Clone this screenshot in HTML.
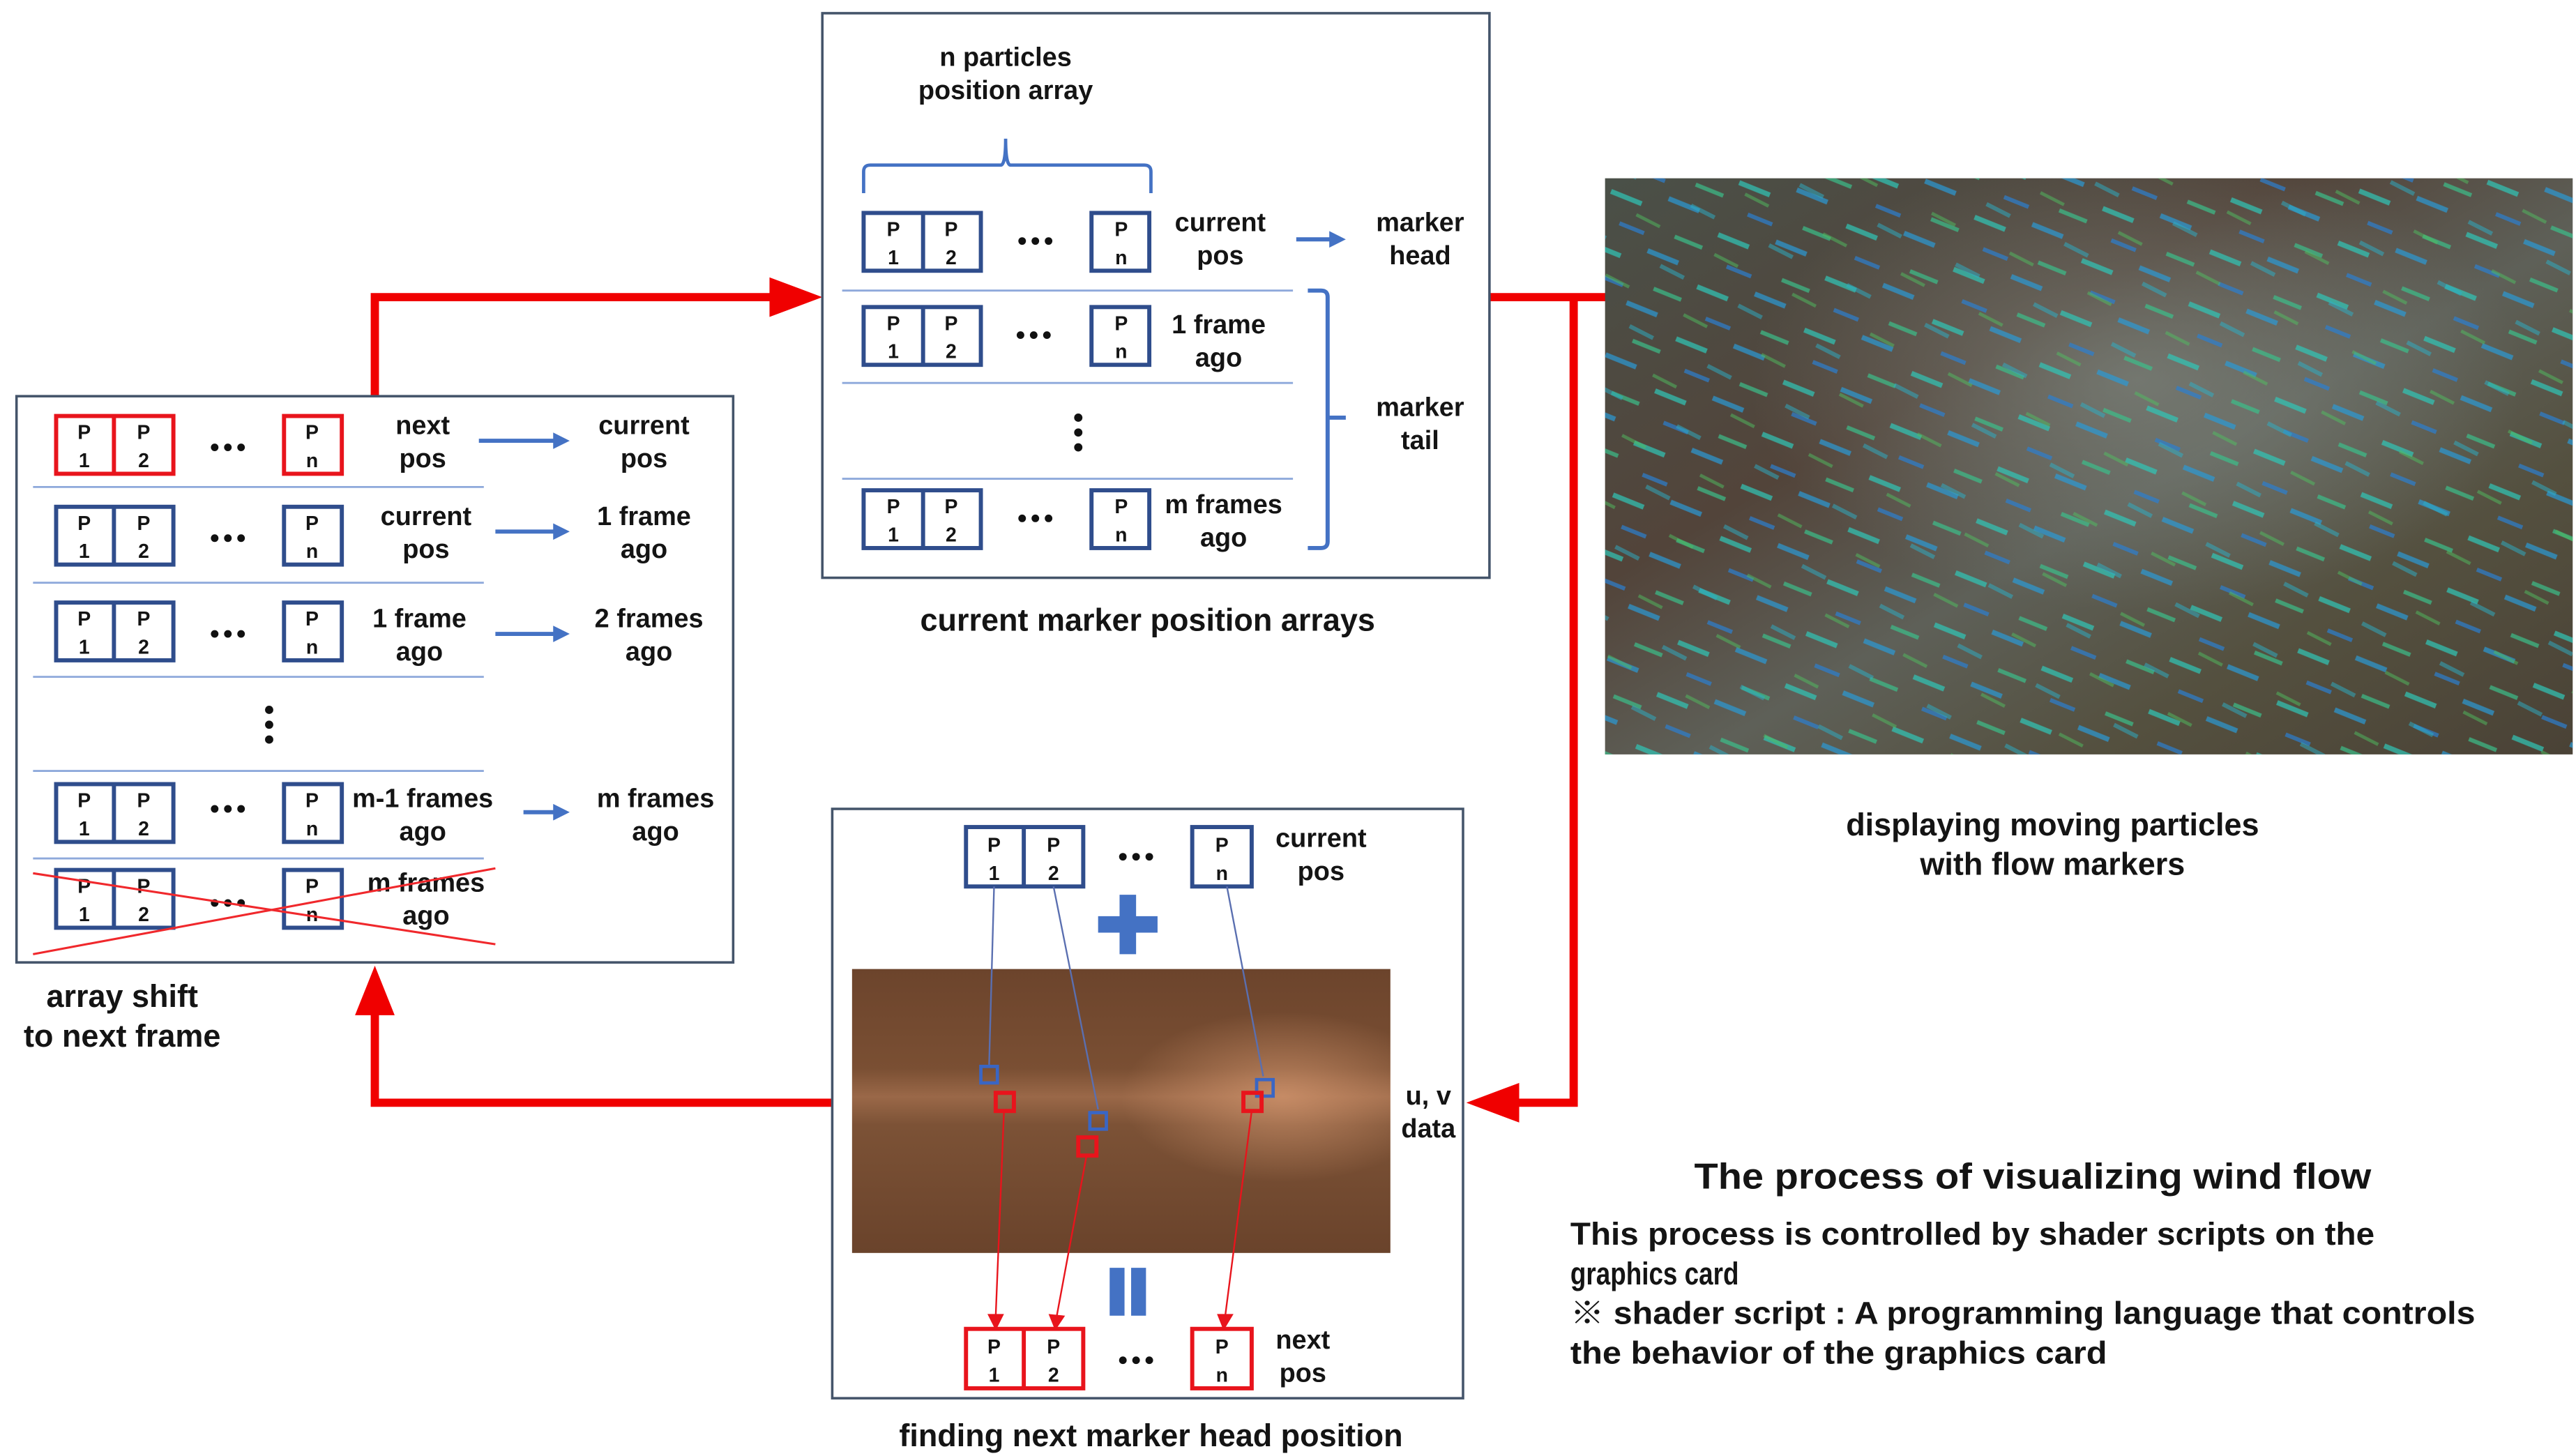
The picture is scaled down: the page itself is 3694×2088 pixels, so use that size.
<!DOCTYPE html>
<html><head><meta charset="utf-8"><style>
html,body{margin:0;padding:0;background:#fff;}
svg{display:block;}
text{font-family:"Liberation Sans","Noto Sans CJK KR",sans-serif;font-weight:bold;fill:#141414;}
.c{font-size:12px;text-anchor:middle;}
.l{font-size:16px;text-anchor:middle;}
</style></head><body>
<svg width="3694" height="2088" viewBox="0 0 1560 882" preserveAspectRatio="none" xmlns="http://www.w3.org/2000/svg">
<defs>
<linearGradient id="sat" x1="0" y1="0" x2="1" y2="1">
<stop offset="0" stop-color="#4a5048"/><stop offset="0.35" stop-color="#52443a"/><stop offset="0.55" stop-color="#5e6058"/><stop offset="0.75" stop-color="#54503f"/><stop offset="1" stop-color="#4a4236"/>
</linearGradient>
<radialGradient id="urb" cx="0.55" cy="0.35" r="0.4">
<stop offset="0" stop-color="#7f8780" stop-opacity="0.7"/><stop offset="1" stop-color="#7f8780" stop-opacity="0"/>
</radialGradient>
<pattern id="dash" width="70" height="34" patternUnits="userSpaceOnUse" patternTransform="rotate(22)">
<line x1="2" y1="5" x2="22" y2="5" stroke="#2a9ad6" stroke-width="3"/>
<line x1="38" y1="14" x2="58" y2="14" stroke="#2fc7b8" stroke-width="3"/>
<line x1="14" y1="25" x2="32" y2="25" stroke="#3bbf8a" stroke-width="2.5"/>
<line x1="50" y1="30" x2="66" y2="30" stroke="#2b7fd0" stroke-width="2.5"/>
</pattern>
<pattern id="dash2" width="53" height="41" patternUnits="userSpaceOnUse" patternTransform="rotate(27) translate(11,7)">
<line x1="4" y1="8" x2="20" y2="8" stroke="#2bb0c8" stroke-width="2.5"/>
<line x1="30" y1="28" x2="46" y2="28" stroke="#4fbf60" stroke-width="2"/>
</pattern>
<linearGradient id="wind" x1="0" y1="0" x2="0" y2="1">
<stop offset="0" stop-color="#6c442c"/><stop offset="0.35" stop-color="#7a4f33"/><stop offset="0.45" stop-color="#9a6848"/><stop offset="0.55" stop-color="#7c5236"/><stop offset="1" stop-color="#6a432b"/>
</linearGradient>
<radialGradient id="band" cx="0.8" cy="0.45" r="0.3">
<stop offset="0" stop-color="#d89a72" stop-opacity="0.7"/><stop offset="1" stop-color="#d89a72" stop-opacity="0"/>
</radialGradient>
</defs>

<g fill="none" stroke="#f00000" stroke-width="5">
<polyline points="227,240 227,180 468,180"/>
<polyline points="902,180 992,180"/>
<polyline points="953,180 953,668 918,668"/>
<polyline points="504,668 227,668 227,614"/>
</g>
<g fill="#f00000">
<polygon points="466,168 498,180 466,192"/>
<polygon points="990,168 1022,180 990,192"/>
<polygon points="920,656 888,668 920,680"/>
<polygon points="215,615 227,585 239,615"/>
</g>

<rect x="10" y="240" width="434" height="343" fill="#fff" stroke="#44546a" stroke-width="1.5"/>
<g stroke="#8ea9db" stroke-width="1.2">
<line x1="20" y1="295" x2="293" y2="295"/><line x1="20" y1="353" x2="293" y2="353"/>
<line x1="20" y1="410" x2="293" y2="410"/><line x1="20" y1="467" x2="293" y2="467"/>
<line x1="20" y1="520" x2="293" y2="520"/>
</g>
<g fill="#fff" stroke-width="2.5">
<g stroke="#e8141c"><rect x="34" y="252" width="71" height="35"/><line x1="69" y1="252" x2="69" y2="287"/><rect x="172" y="252" width="35" height="35"/></g>
<g stroke="#2f4d8c">
<rect x="34" y="307" width="71" height="35"/><line x1="69" y1="307" x2="69" y2="342"/><rect x="172" y="307" width="35" height="35"/>
<rect x="34" y="365" width="71" height="35"/><line x1="69" y1="365" x2="69" y2="400"/><rect x="172" y="365" width="35" height="35"/>
<rect x="34" y="475" width="71" height="35"/><line x1="69" y1="475" x2="69" y2="510"/><rect x="172" y="475" width="35" height="35"/>
<rect x="34" y="527" width="71" height="35"/><line x1="69" y1="527" x2="69" y2="562"/><rect x="172" y="527" width="35" height="35"/>
</g></g>
<g class="c">
<text class="c" x="51" y="266">P</text><text class="c" x="51" y="283">1</text><text class="c" x="87" y="266">P</text><text class="c" x="87" y="283">2</text><text class="c" x="189" y="266">P</text><text class="c" x="189" y="283">n</text>
<text class="c" x="51" y="321">P</text><text class="c" x="51" y="338">1</text><text class="c" x="87" y="321">P</text><text class="c" x="87" y="338">2</text><text class="c" x="189" y="321">P</text><text class="c" x="189" y="338">n</text>
<text class="c" x="51" y="379">P</text><text class="c" x="51" y="396">1</text><text class="c" x="87" y="379">P</text><text class="c" x="87" y="396">2</text><text class="c" x="189" y="379">P</text><text class="c" x="189" y="396">n</text>
<text class="c" x="51" y="489">P</text><text class="c" x="51" y="506">1</text><text class="c" x="87" y="489">P</text><text class="c" x="87" y="506">2</text><text class="c" x="189" y="489">P</text><text class="c" x="189" y="506">n</text>
<text class="c" x="51" y="541">P</text><text class="c" x="51" y="558">1</text><text class="c" x="87" y="541">P</text><text class="c" x="87" y="558">2</text><text class="c" x="189" y="541">P</text><text class="c" x="189" y="558">n</text>
</g>
<g fill="#111">
<circle cx="130" cy="271" r="2.3"/><circle cx="138" cy="271" r="2.3"/><circle cx="146" cy="271" r="2.3"/>
<circle cx="130" cy="326" r="2.3"/><circle cx="138" cy="326" r="2.3"/><circle cx="146" cy="326" r="2.3"/>
<circle cx="130" cy="384" r="2.3"/><circle cx="138" cy="384" r="2.3"/><circle cx="146" cy="384" r="2.3"/>
<circle cx="130" cy="490" r="2.3"/><circle cx="138" cy="490" r="2.3"/><circle cx="146" cy="490" r="2.3"/>
<circle cx="130" cy="547" r="2.3"/><circle cx="138" cy="547" r="2.3"/><circle cx="146" cy="547" r="2.3"/>
<circle cx="163" cy="430" r="2.5"/><circle cx="163" cy="439" r="2.5"/><circle cx="163" cy="448" r="2.5"/>
</g>
<text class="l" x="256" y="263">next</text><text class="l" x="256" y="283">pos</text>
<text class="l" x="390" y="263">current</text><text class="l" x="390" y="283">pos</text>
<text class="l" x="258" y="318">current</text><text class="l" x="258" y="338">pos</text>
<text class="l" x="390" y="318">1 frame</text><text class="l" x="390" y="338">ago</text>
<text class="l" x="254" y="380">1 frame</text><text class="l" x="254" y="400">ago</text>
<text class="l" x="393" y="380">2 frames</text><text class="l" x="393" y="400">ago</text>
<text class="l" x="256" y="489">m-1 frames</text><text class="l" x="256" y="509">ago</text>
<text class="l" x="397" y="489">m frames</text><text class="l" x="397" y="509">ago</text>
<text class="l" x="258" y="540">m frames</text><text class="l" x="258" y="560">ago</text>
<g stroke="#4472c4" stroke-width="2.5" fill="#4472c4">
<line x1="290" y1="267" x2="336" y2="267"/><polygon points="335,262 345,267 335,272" stroke="none"/>
<line x1="300" y1="322" x2="336" y2="322"/><polygon points="335,317 345,322 335,327" stroke="none"/>
<line x1="300" y1="384" x2="336" y2="384"/><polygon points="335,379 345,384 335,389" stroke="none"/>
<line x1="317" y1="492" x2="336" y2="492"/><polygon points="335,487 345,492 335,497" stroke="none"/>
</g>
<g stroke="#f0282c" stroke-width="1.3"><line x1="20" y1="529" x2="300" y2="572"/><line x1="20" y1="578" x2="300" y2="526"/></g>
<text x="74" y="610" style="font-size:19px;text-anchor:middle">array shift</text>
<text x="74" y="634" style="font-size:19px;text-anchor:middle">to next frame</text>

<rect x="498" y="8" width="404" height="342" fill="#fff" stroke="#44546a" stroke-width="1.5"/>
<text class="l" x="609" y="40">n particles</text><text class="l" x="609" y="60">position array</text>
<path d="M523,117 V104 Q523,100 527,100 H606 Q609,100 609,84 Q609,100 612,100 H693 Q697,100 697,104 V117" fill="none" stroke="#4472c4" stroke-width="2"/>
<g stroke="#8ea9db" stroke-width="1.2"><line x1="510" y1="176" x2="783" y2="176"/><line x1="510" y1="232" x2="783" y2="232"/><line x1="510" y1="290" x2="783" y2="290"/></g>
<g fill="#fff" stroke="#2f4d8c" stroke-width="2.5">
<rect x="523" y="129" width="71" height="35"/><line x1="559" y1="129" x2="559" y2="164"/><rect x="661" y="129" width="35" height="35"/>
<rect x="523" y="186" width="71" height="35"/><line x1="559" y1="186" x2="559" y2="221"/><rect x="661" y="186" width="35" height="35"/>
<rect x="523" y="297" width="71" height="35"/><line x1="559" y1="297" x2="559" y2="332"/><rect x="661" y="297" width="35" height="35"/>
</g>
<text class="c" x="541" y="143">P</text><text class="c" x="541" y="160">1</text><text class="c" x="576" y="143">P</text><text class="c" x="576" y="160">2</text><text class="c" x="679" y="143">P</text><text class="c" x="679" y="160">n</text>
<text class="c" x="541" y="200">P</text><text class="c" x="541" y="217">1</text><text class="c" x="576" y="200">P</text><text class="c" x="576" y="217">2</text><text class="c" x="679" y="200">P</text><text class="c" x="679" y="217">n</text>
<text class="c" x="541" y="311">P</text><text class="c" x="541" y="328">1</text><text class="c" x="576" y="311">P</text><text class="c" x="576" y="328">2</text><text class="c" x="679" y="311">P</text><text class="c" x="679" y="328">n</text>
<g fill="#111">
<circle cx="619" cy="146" r="2.3"/><circle cx="627" cy="146" r="2.3"/><circle cx="635" cy="146" r="2.3"/>
<circle cx="618" cy="203" r="2.3"/><circle cx="626" cy="203" r="2.3"/><circle cx="634" cy="203" r="2.3"/>
<circle cx="619" cy="314" r="2.3"/><circle cx="627" cy="314" r="2.3"/><circle cx="635" cy="314" r="2.3"/>
<circle cx="653" cy="253" r="2.5"/><circle cx="653" cy="262" r="2.5"/><circle cx="653" cy="271" r="2.5"/>
</g>
<text class="l" x="739" y="140">current</text><text class="l" x="739" y="160">pos</text>
<text class="l" x="738" y="202">1 frame</text><text class="l" x="738" y="222">ago</text>
<text class="l" x="741" y="311">m frames</text><text class="l" x="741" y="331">ago</text>
<text class="l" x="860" y="140">marker</text><text class="l" x="860" y="160">head</text>
<text class="l" x="860" y="252">marker</text><text class="l" x="860" y="272">tail</text>
<g stroke="#4472c4" stroke-width="2.5" fill="none">
<line x1="785" y1="145" x2="806" y2="145"/>
<path d="M792,176 H800 Q804,176 804,180 V328 Q804,332 800,332 H792 M804,253 H815"/>
</g>
<polygon points="805,140 815,145 805,150" fill="#4472c4"/>
<text x="695" y="382" style="font-size:19px;text-anchor:middle">current marker position arrays</text>

<rect x="972" y="108" width="586" height="349" fill="url(#sat)"/>
<rect x="972" y="108" width="586" height="349" fill="url(#urb)"/>
<rect x="972" y="108" width="586" height="349" fill="url(#dash)" opacity="0.7"/>
<rect x="972" y="108" width="586" height="349" fill="url(#dash2)" opacity="0.5"/>
<text x="1243" y="506" style="font-size:19px;text-anchor:middle">displaying moving particles</text>
<text x="1243" y="530" style="font-size:19px;text-anchor:middle">with flow markers</text>

<rect x="504" y="490" width="382" height="357" fill="#fff" stroke="#44546a" stroke-width="1.5"/>
<rect x="516" y="587" width="326" height="172" fill="url(#wind)"/>
<rect x="516" y="587" width="326" height="172" fill="url(#band)"/>
<g fill="#fff" stroke-width="2.5">
<g stroke="#2f4d8c"><rect x="585" y="501" width="71" height="36"/><line x1="620" y1="501" x2="620" y2="537"/><rect x="722" y="501" width="36" height="36"/></g>
<g stroke="#e8141c"><rect x="585" y="805" width="71" height="36"/><line x1="620" y1="805" x2="620" y2="841"/><rect x="722" y="805" width="36" height="36"/></g>
</g>
<text class="c" x="602" y="516">P</text><text class="c" x="602" y="533">1</text><text class="c" x="638" y="516">P</text><text class="c" x="638" y="533">2</text><text class="c" x="740" y="516">P</text><text class="c" x="740" y="533">n</text>
<text class="c" x="602" y="820">P</text><text class="c" x="602" y="837">1</text><text class="c" x="638" y="820">P</text><text class="c" x="638" y="837">2</text><text class="c" x="740" y="820">P</text><text class="c" x="740" y="837">n</text>
<g fill="#111">
<circle cx="680" cy="519" r="2.3"/><circle cx="688" cy="519" r="2.3"/><circle cx="696" cy="519" r="2.3"/>
<circle cx="680" cy="824" r="2.3"/><circle cx="688" cy="824" r="2.3"/><circle cx="696" cy="824" r="2.3"/>
</g>
<text class="l" x="800" y="513">current</text><text class="l" x="800" y="533">pos</text>
<text class="l" x="789" y="817">next</text><text class="l" x="789" y="837">pos</text>
<text class="l" x="865" y="669">u, v</text><text class="l" x="865" y="689">data</text>
<path d="M678,542 h10 v13 h13 v10 h-13 v13 h-10 v-13 h-13 v-10 h13 z" fill="#4472c4"/>
<rect x="672" y="768" width="9" height="29" fill="#4472c4"/><rect x="685" y="768" width="9" height="29" fill="#4472c4"/>
<g stroke="#5a6fb0" stroke-width="1" fill="none">
<line x1="602" y1="537" x2="599" y2="645"/><line x1="638" y1="537" x2="665" y2="672"/><line x1="743" y1="537" x2="765" y2="652"/>
</g>
<g stroke="#3a66c4" stroke-width="2" fill="none">
<rect x="594" y="646" width="10" height="10"/><rect x="660" y="674" width="10" height="10"/><rect x="761" y="654" width="10" height="10"/>
</g>
<g stroke="#e8141c" stroke-width="2.5" fill="none">
<rect x="603" y="662" width="11" height="11"/><rect x="653" y="689" width="11" height="11"/><rect x="753" y="662" width="11" height="11"/>
</g>
<g stroke="#e8141c" stroke-width="1" fill="none">
<line x1="608" y1="673" x2="603" y2="797"/><line x1="658" y1="700" x2="640" y2="797"/><line x1="758" y1="673" x2="742" y2="797"/>
</g>
<g fill="#e8141c">
<polygon points="598,796 608,796 603,806"/><polygon points="635,796 645,797 639,806"/><polygon points="737,796 747,796 741,806"/>
</g>
<text x="697" y="876" style="font-size:19px;text-anchor:middle">finding next marker head position</text>

<text x="1231" y="720" style="font-size:22px;text-anchor:middle" textLength="410" lengthAdjust="spacingAndGlyphs">The process of visualizing wind flow</text>
<text x="951" y="754" style="font-size:19px" textLength="487" lengthAdjust="spacingAndGlyphs">This process is controlled by shader scripts on the</text>
<text x="951" y="778" style="font-size:19px" textLength="102" lengthAdjust="spacingAndGlyphs">graphics card</text>
<text x="951" y="802" style="font-size:19px" textLength="548" lengthAdjust="spacingAndGlyphs">※ shader script : A programming language that controls</text>
<text x="951" y="826" style="font-size:19px" textLength="325" lengthAdjust="spacingAndGlyphs">the behavior of the graphics card</text>
</svg>
</body></html>
